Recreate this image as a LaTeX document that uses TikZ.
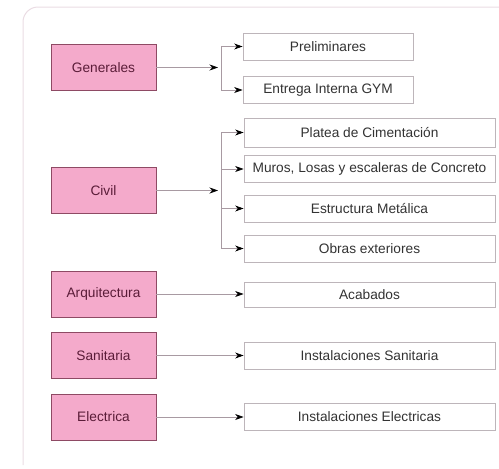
\documentclass[tikz,border=0pt]{standalone}
\usepackage{fontspec}
\setmainfont{Liberation Sans}
\usetikzlibrary{arrows.meta}
\definecolor{catfill}{HTML}{F4AACB}
\definecolor{catdraw}{HTML}{8E4A64}
\definecolor{cattext}{HTML}{5A1C38}
\definecolor{itemdraw}{HTML}{BDB5BA}
\definecolor{itemtext}{HTML}{333333}
\definecolor{framecol}{HTML}{EADCE3}
\definecolor{linkcol}{HTML}{A89AA2}
\tikzset{
  category/.style={draw=catdraw, fill=catfill, line width=0.9pt, minimum width=105pt,
    minimum height=46pt, inner sep=0pt, text=cattext,
    font=\fontsize{13.7}{16}\selectfont},
  item/.style={draw=itemdraw, fill=white, line width=0.8pt, minimum height=27pt,
    inner sep=0pt, text=itemtext, font=\fontsize{13.7}{16}\selectfont},
  shortitem/.style={item, minimum width=170pt},
  longitem/.style={item, minimum width=251pt},
  link/.style={draw=linkcol, line width=0.7pt},
  tip/.style={link, -{Stealth[length=8.5pt,width=6pt,black]}},
}
\begin{document}
\begin{tikzpicture}[x=1pt,y=-1pt]
\useasboundingbox (0,0) rectangle (499,469);
% outer frame (left and top sides)
\draw[framecol, line width=1pt] (23,465) -- (23,22) arc[start angle=180, end angle=270, radius=15] -- (499,7);

% categories
\node[category] (gen) at (103.5,67.5) {Generales};
\node[category] (civ) at (103.5,190.5) {Civil};
\node[category] (arq) at (103.5,294) {Arquitectura};
\node[category] (san) at (103.5,355.5) {Sanitaria};
\node[category] (ele) at (103.5,417) {Electrica};

% work items
\node[shortitem] (pre) at (328,46.5) {Preliminares};
\node[shortitem] (ent) at (328,90) {Entrega Interna GYM};
\node[longitem, minimum height=29pt] (pla) at (369.5,132.5) {Platea de Cimentación};
\node[longitem] (mur) at (369.5,169) {Muros, Losas y escaleras de Concreto};
\node[longitem] (est) at (369.5,208.5) {Estructura Metálica};
\node[longitem] (obr) at (369.5,248.5) {Obras exteriores};
\node[longitem, minimum height=25pt] (aca) at (369.5,294.5) {Acabados};
\node[longitem] (isa) at (369.5,356) {Instalaciones Sanitaria};
\node[longitem] (iel) at (369.5,417) {Instalaciones Electricas};

% junction points
\coordinate (gj) at (218,67.5);
\coordinate (cj) at (218,190.5);

% Generales branch
\draw[tip] (gen.east) -- (gj);
\draw[link] (221,46.5) -- (221,90);
\draw[tip] (221,46.5) -- (pre.west);
\draw[tip] (221,90) -- (ent.west);

% Civil branch
\draw[tip] (civ.east) -- (cj);
\draw[link] (221,132.5) -- (221,248.5);
\draw[tip] (221,132.5) -- (pla.west);
\draw[tip] (221,169) -- (mur.west);
\draw[tip] (221,208.5) -- (est.west);
\draw[tip] (221,248.5) -- (obr.west);

% single links
\draw[tip] (arq.east) -- (arq.east -| aca.west);
\draw[tip] (san.east) -- (san.east -| isa.west);
\draw[tip] (ele.east) -- (ele.east -| iel.west);
\end{tikzpicture}
\end{document}
